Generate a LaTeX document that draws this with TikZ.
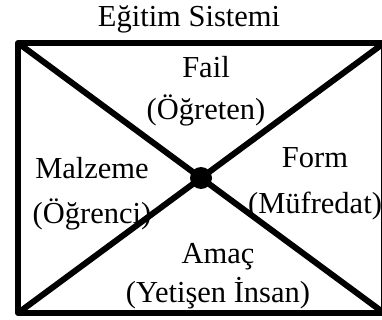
\documentclass[tikz,border=0pt]{standalone}
\usepackage{fontspec}
\setmainfont{Liberation Serif}
\tikzset{frame/.style={line width=6pt,line join=round}}
\tikzset{lbl/.style={font=\fontsize{30.5}{43}\selectfont,align=center,inner sep=0pt,anchor=base}}
\begin{document}
\begin{tikzpicture}[x=1pt,y=-1pt]
    \useasboundingbox (0,0) rectangle (382,320);
    % corners of the frame
    \coordinate (tl) at (18,43);
    \coordinate (tr) at (384,43);
    \coordinate (bl) at (18,313);
    \coordinate (br) at (384,313);

    \draw[frame] (tl) rectangle (br);
    \draw[frame] (tl) -- (br);
    \draw[frame] (bl) -- (tr);
    \node[circle,fill,minimum size=22pt,inner sep=0pt] (hub) at (201,178) {};

    % Labels (base = last line)
    \node[lbl] (title) at (189,27) {Eğitim Sistemi};
    \node[lbl] (teacher) at (206,120) {Fail\\[-1pt](Öğreten)};
    \node[lbl] (student) at (92,223) {Malzeme\\[2pt](Öğrenci)};
    \node[lbl] (program) at (315,213) {Form\\[3pt](Müfredat)};
    \node[lbl] (goal) at (218,302) {Amaç\\[-4pt](Yetişen İnsan)};
\end{tikzpicture}
\end{document}
